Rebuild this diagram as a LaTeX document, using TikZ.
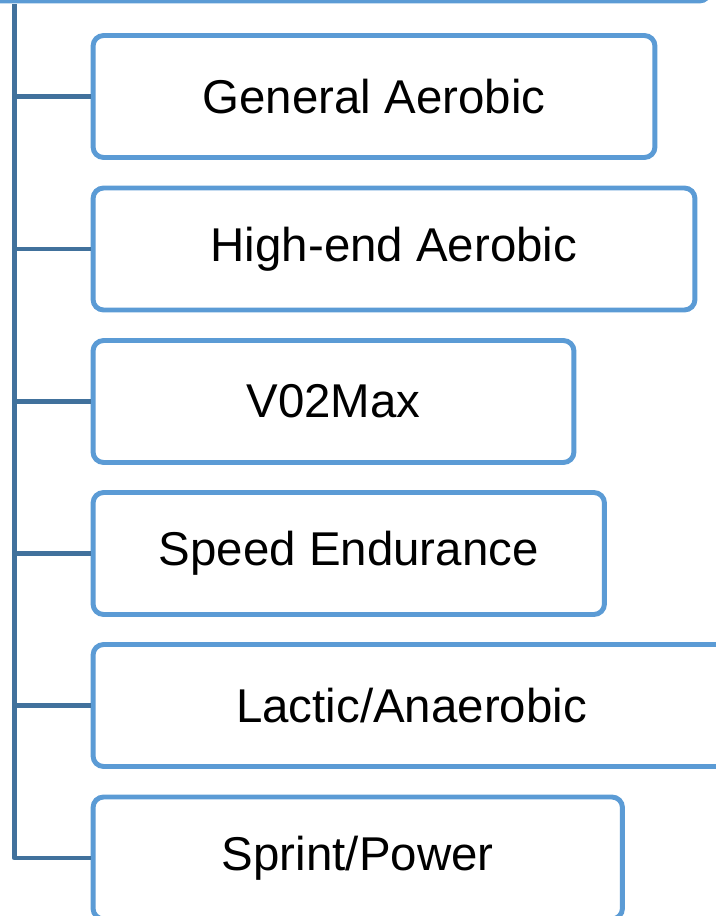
\documentclass[tikz,border=0pt]{standalone}
\usepackage{fontspec}
\setmainfont{Liberation Sans}
\usepackage{tikz}
\usetikzlibrary{positioning}
\definecolor{boxblue}{RGB}{91,155,213}
\definecolor{linkblue}{RGB}{65,113,156}

\begin{document}
\begin{tikzpicture}[x=0.02cm, y=-0.02cm,
    zonebox/.style={rectangle, draw=boxblue, fill=white, line width=2.8pt, rounded corners=0.21cm, minimum height=2.44cm, inner sep=0pt, align=center, font=\fontsize{27}{32}\selectfont},
    link/.style={draw=linkblue, line width=2.8pt, line join=round},
  ]
    \clip (0,0) rectangle (716,916);

    % Parent box (cut off at the top)
    \node[zonebox, minimum width=14.8cm] (root) at (340,-60) {};

    % Training zones
    \node[zonebox, minimum width=11.24cm] (ga) at (374,96.5) {General Aerobic};
    \node[zonebox, minimum width=12.04cm] (ha) at (394,249) {High-end Aerobic};
    \node[zonebox, minimum width=9.62cm] (vo) at (333.5,401.5) {V02Max};
    \node[zonebox, minimum width=10.23cm] (se) at (348.75,553.5) {Speed Endurance};
    \node[zonebox, minimum width=12.74cm] (la) at (411.5,705.5) {Lactic/Anaerobic};
    \node[zonebox, minimum width=10.59cm] (sp) at (357.75,858) {Sprint/Power};

    % Trunk and branches
    \coordinate (trunk) at (14.5,4);
    \draw[link] (trunk) |- (sp.west);
    \foreach \z in {ga,ha,vo,se,la}
      \draw[link] (trunk |- \z.west) -- (\z.west);

  \end{tikzpicture}
\end{document}
